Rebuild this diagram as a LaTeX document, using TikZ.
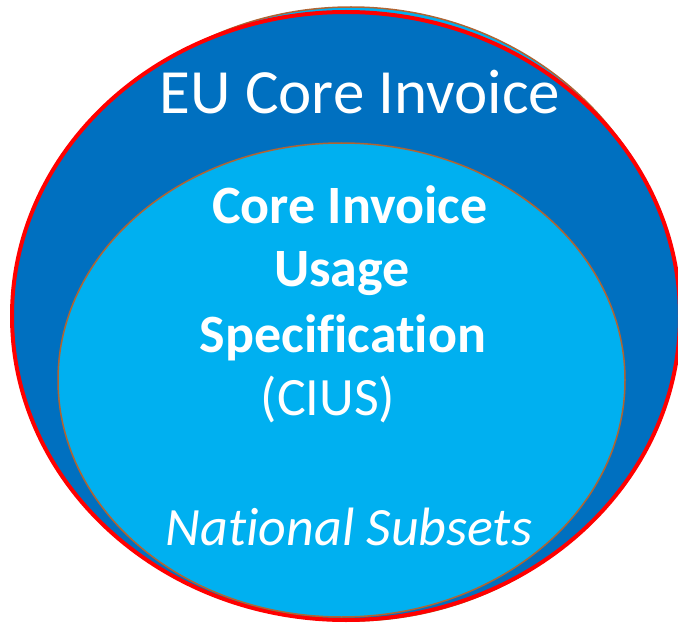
\documentclass[tikz,border=0pt]{standalone}
\usepackage{fontspec}
\setmainfont[Ligatures={NoCommon}]{Carlito}
\definecolor{darkblue}{HTML}{0070C0}
\definecolor{lightblue}{HTML}{00B0F0}
\definecolor{brownline}{RGB}{176,100,50}
\definecolor{redline}{HTML}{FF0000}
\tikzset{
  backoval/.style={fill=lightblue, draw=brownline, line width=1.5pt},
  outeroval/.style={fill=darkblue, draw=redline, line width=4pt},
  inneroval/.style={fill=lightblue, draw=brownline, line width=1.5pt},
  label/.style={text=white, anchor=base, inner sep=0pt, outer sep=0pt},
  bigfont/.style={font=\fontsize{63}{76}\selectfont},
  midfont/.style={font=\fontsize{54}{65}\selectfont},
}
\begin{document}
\begin{tikzpicture}[x=1pt,y=-1pt]
\useasboundingbox (0,0) rectangle (678,623);
\draw[backoval] (351,314) ellipse [x radius=326pt, y radius=307pt];
\draw[outeroval] (346,316) ellipse [x radius=334pt, y radius=304pt];
\draw[inneroval] (341.5,380) ellipse [x radius=283.5pt, y radius=237pt];
\node[label, bigfont] (eu) at (360,114) {EU Core Invoice};
\node[label, midfont] (core) at (350,223) {\bfseries Core Invoice};
\node[label, midfont] (usage) at (342,287) {\bfseries Usage};
\node[label, midfont] (spec) at (343,352) {\bfseries Specification};
\node[label, midfont] (cius) at (328,415) {(CIUS)};
\node[label, midfont] (nat) at (349,545) {\itshape National Subsets};
\end{tikzpicture}
\end{document}
